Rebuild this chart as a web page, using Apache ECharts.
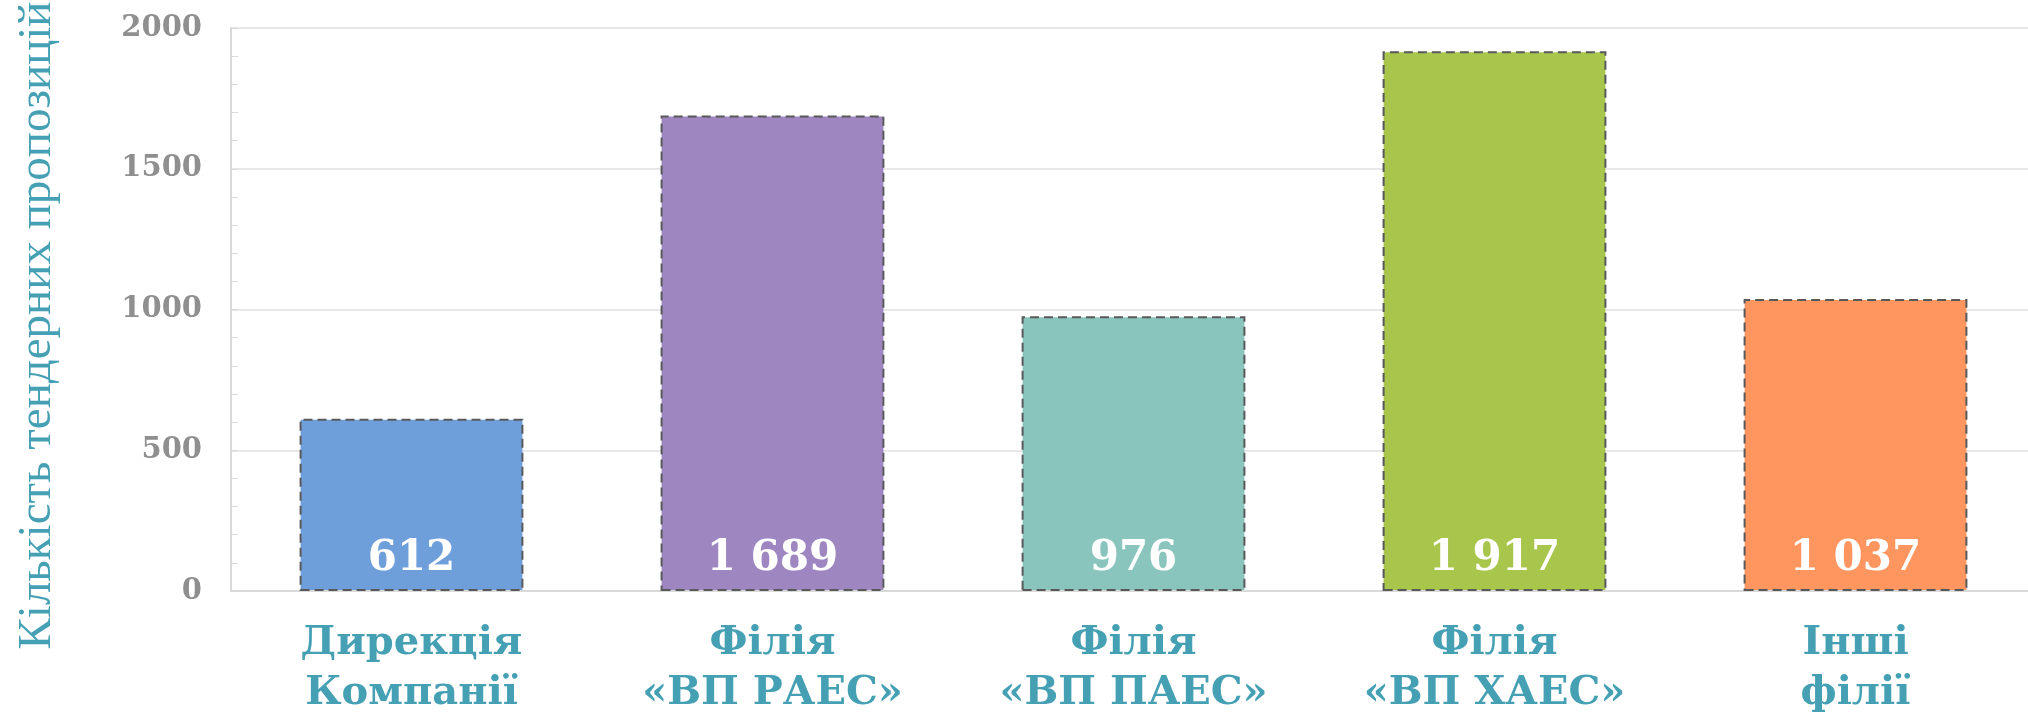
<!DOCTYPE html>
<html>
<head>
<meta charset="utf-8">
<script src="https://cdn.jsdelivr.net/npm/echarts@6/dist/echarts.min.js"></script>
<style>
  html, body { margin: 0; padding: 0; background: #fff; }
  #chart { width: 2028px; height: 715px; }
</style>
</head>
<body>
<div id="chart"></div>
<script>
// data
const categories = ['Дирекція\nКомпанії', 'Філія\n«ВП РАЕС»', 'Філія\n«ВП ПАЕС»', 'Філія\n«ВП ХАЕС»', 'Інші\nфілії'];
const values = [612, 1689, 976, 1917, 1037];
const barColors = ['#6f9fda', '#9e86c1', '#89c5bd', '#a8c64c', '#ff9660'];
const yTitle = 'Кількість тендерних пропозицій';

const teal = '#45a0b4';

// 1689 -> "1 689"
const fmt = (v) => String(v).replace(/\B(?=(\d{3})+(?!\d))/g, ' ');

const myChart = echarts.init(document.getElementById('chart'));
const option = {
  animation: false,
  grid: { left: 231, right: -8, top: 28, bottom: 124, outerBoundsMode: 'none' },
  xAxis: {
    type: 'category',
    data: categories,
    axisLine: { lineStyle: { color: '#d9d9d9', width: 2 } },
    axisTick: { show: false },
    axisLabel: {
      interval: 0,
      margin: 28,
      color: teal,
      fontFamily: 'DejaVu Serif',
      fontWeight: 'bold',
      fontSize: 40,
      lineHeight: 50,
    },
  },
  yAxis: {
    type: 'value',
    min: 0,
    max: 2000,
    interval: 500,
    name: yTitle,
    nameLocation: 'middle',
    nameRotate: 90,
    nameGap: 170,
    nameTextStyle: {
      color: teal,
      fontFamily: 'Liberation Serif',
      fontSize: 47,
      padding: [0, 32, 0, 0],
    },
    axisLine: { show: true, lineStyle: { color: '#d9d9d9', width: 2 } },
    axisTick: { show: true, inside: true, length: 7, lineStyle: { color: '#d9d9d9' } },
    minorTick: { show: true, splitNumber: 5, length: 7, lineStyle: { color: '#d9d9d9' } },
    splitLine: { lineStyle: { color: '#e8e8e8', width: 2 } },
    axisLabel: {
      margin: 29,
      color: '#8f8f8f',
      fontFamily: 'DejaVu Serif',
      fontWeight: 'bold',
      fontSize: 29,
      formatter: (v) => String(v),
    },
  },
  series: [
    {
      type: 'bar',
      barWidth: '62%',
      data: values.map((v, i) => ({
        value: v,
        itemStyle: { color: barColors[i] },
      })),
      itemStyle: {
        borderColor: '#595959',
        borderWidth: 2,
        borderType: [9, 5],
      },
      label: {
        show: true,
        position: 'insideBottom',
        distance: 11,
        color: '#fff',
        fontFamily: 'DejaVu Serif',
        fontWeight: 'bold',
        fontSize: 42,
        formatter: (p) => fmt(p.value),
      },
    },
  ],
};
myChart.setOption(option);
</script>
</body>
</html>
